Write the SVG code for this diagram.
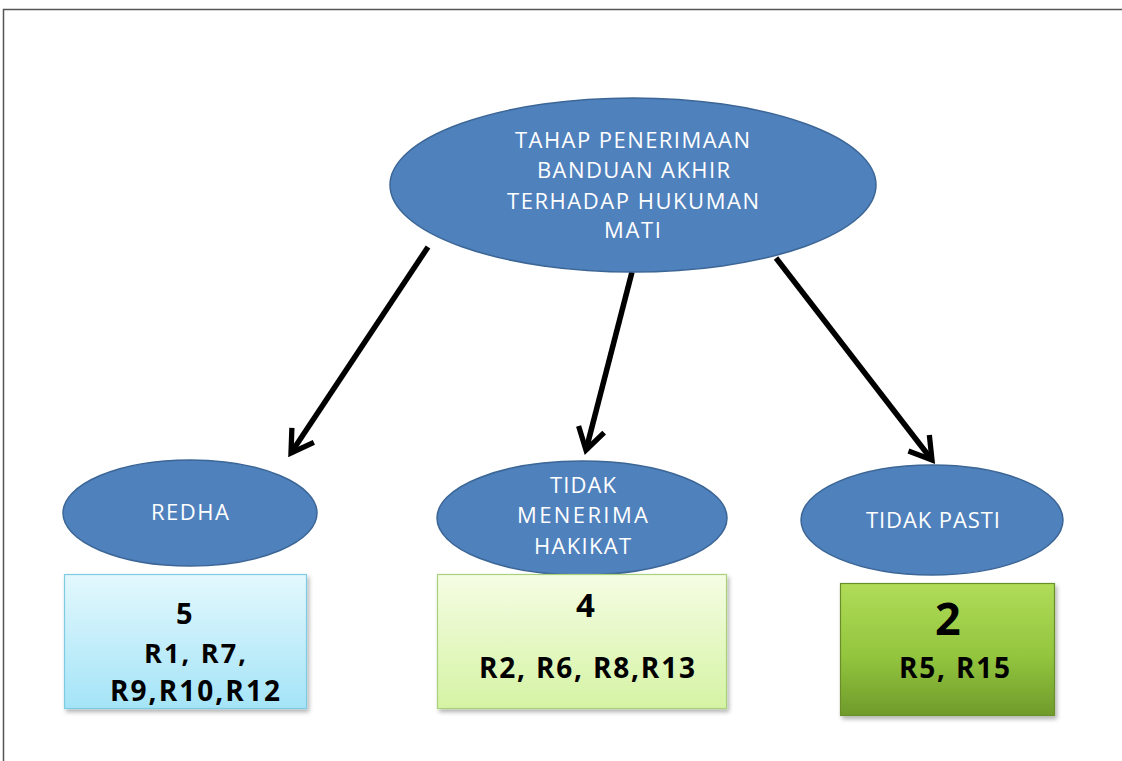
<svg xmlns="http://www.w3.org/2000/svg" width="1122" height="761" viewBox="0 0 1122 761">
<defs>
<linearGradient id="g1" x1="0" y1="0" x2="0" y2="1"><stop offset="0" stop-color="#e3f8fd"/><stop offset="1" stop-color="#a4e4f7"/></linearGradient>
<linearGradient id="g2" x1="0" y1="0" x2="0" y2="1"><stop offset="0" stop-color="#f5fde4"/><stop offset="1" stop-color="#d5f3a4"/></linearGradient>
<linearGradient id="g3" x1="0" y1="0" x2="0" y2="1"><stop offset="0" stop-color="#b0dc58"/><stop offset="0.55" stop-color="#93c53e"/><stop offset="1" stop-color="#6f9b2b"/></linearGradient>
<filter id="sh" x="-10%" y="-10%" width="130%" height="130%"><feDropShadow dx="2" dy="3" stdDeviation="2" flood-color="#000" flood-opacity="0.3"/></filter>
<marker id="arr" viewBox="0 0 20 20" refX="17" refY="10" markerWidth="6" markerHeight="6" markerUnits="strokeWidth" orient="auto"><path d="M4,2 L17,10 L4,18" fill="none" stroke="#000" stroke-width="3.2" stroke-linecap="butt" stroke-linejoin="miter"/></marker>
</defs>
<style>
.ell{fill:#4f81bd;stroke:#3c6696;stroke-width:1.5}
.et{font-family:"Open Sans","Liberation Sans",sans-serif;font-size:22px;fill:#ffffff}
.bt{font-family:"Open Sans","Liberation Sans",sans-serif;font-weight:bold;fill:#000}
.con{stroke:#000;stroke-width:5.5;fill:none;marker-end:url(#arr)}
</style>
<rect width="1122" height="761" fill="#fff"/>
<path d="M3.5,761 L3.5,9.5 L1122,9.5" fill="none" stroke="#555" stroke-width="1.5"/>
<g id="connectors">
<line class="con" x1="428" y1="247" x2="291" y2="453"/>
<line class="con" x1="632" y1="272" x2="586" y2="450"/>
<line class="con" x1="776" y1="258" x2="932" y2="460"/>
</g>
<g id="root">
<ellipse class="ell" cx="633" cy="185" rx="243" ry="87"/>
<text class="et" x="515" y="148" textLength="235" lengthAdjust="spacing">TAHAP PENERIMAAN</text>
<text class="et" x="537" y="178" textLength="193" lengthAdjust="spacing">BANDUAN AKHIR</text>
<text class="et" x="507" y="209" textLength="252" lengthAdjust="spacing">TERHADAP HUKUMAN</text>
<text class="et" x="604" y="238" textLength="57" lengthAdjust="spacing">MATI</text>
</g>
<g id="redha">
<ellipse class="ell" cx="190" cy="513" rx="127" ry="53"/>
<text class="et" x="151" y="520" textLength="78" lengthAdjust="spacing">REDHA</text>
</g>
<g id="tidak-menerima">
<ellipse class="ell" cx="582" cy="518" rx="145" ry="57"/>
<text class="et" x="550" y="493" textLength="66" lengthAdjust="spacing">TIDAK</text>
<text class="et" x="517" y="523" textLength="131" lengthAdjust="spacing">MENERIMA</text>
<text class="et" x="534" y="554" textLength="97" lengthAdjust="spacing">HAKIKAT</text>
</g>
<g id="tidak-pasti">
<ellipse class="ell" cx="932" cy="520" rx="131" ry="55"/>
<text class="et" x="866" y="528" textLength="134" lengthAdjust="spacing">TIDAK PASTI</text>
</g>
<g id="box-redha">
<rect x="64.5" y="574.5" width="242" height="134" fill="url(#g1)" stroke="#7fcbe2" stroke-width="1.2" filter="url(#sh)"/>
<text class="bt" x="176" y="624" font-size="29">5</text>
<text class="bt" x="144" y="663" font-size="27" textLength="102" lengthAdjust="spacing">R1, R7,</text>
<text class="bt" x="110" y="701" font-size="28" textLength="170" lengthAdjust="spacing">R9,R10,R12</text>
</g>
<g id="box-tidak-menerima">
<rect x="437.5" y="574.5" width="289" height="134" fill="url(#g2)" stroke="#a9d07d" stroke-width="1.2" filter="url(#sh)"/>
<text class="bt" x="576" y="617" font-size="33">4</text>
<text class="bt" x="479" y="678" font-size="28" textLength="216" lengthAdjust="spacing">R2, R6, R8,R13</text>
</g>
<g id="box-tidak-pasti">
<rect x="840.5" y="583.5" width="214" height="132" fill="url(#g3)" stroke="#6a8f2a" stroke-width="1.2" filter="url(#sh)"/>
<text class="bt" x="935" y="635" font-size="45">2</text>
<text class="bt" x="899" y="678" font-size="28" textLength="111" lengthAdjust="spacing">R5, R15</text>
</g>
</svg>
